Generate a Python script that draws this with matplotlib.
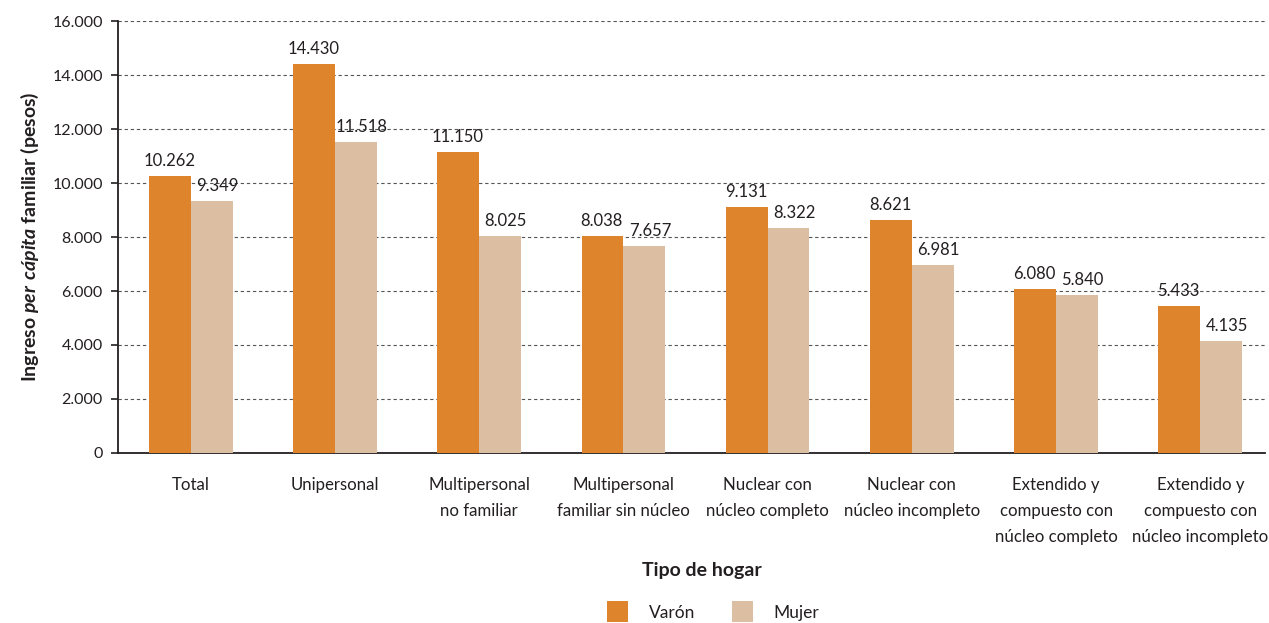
import matplotlib.pyplot as plt
import numpy as np

plt.rcParams['font.family'] = ['Lato', 'DejaVu Sans']
plt.rcParams['mathtext.fontset'] = 'custom'
plt.rcParams['mathtext.bfit'] = 'Lato:bold:italic'
plt.rcParams['mathtext.rm'] = 'Lato:bold'

categorias = ["Total", "Unipersonal", "Multipersonal\nno familiar",
              "Multipersonal\nfamiliar sin núcleo", "Nuclear con\nnúcleo completo",
              "Nuclear con\nnúcleo incompleto", "Extendido y\ncompuesto con\nnúcleo completo",
              "Extendido y\ncompuesto con\nnúcleo incompleto"]
varon = [10262, 14430, 11150, 8038, 9131, 8621, 6080, 5433]
mujer = [9349, 11518, 8025, 7657, 8322, 6981, 5840, 4135]
yticks = [0, 2000, 4000, 6000, 8000, 10000, 12000, 14000, 16000]

naranja = '#DD842D'
beige = '#DCBFA3'
texto = '#231f20'

def fmt(v):
    return f"{v:,}".replace(",", ".")

fig = plt.figure(figsize=(12.69, 6.23), dpi=100)
ax = fig.add_axes([0.093, 0.273, 0.904, 0.693])

x = np.arange(len(categorias))
w = 0.29
b1 = ax.bar(x - w / 2, varon, w, color=naranja, label='Varón', zorder=3)
b2 = ax.bar(x + w / 2, mujer, w, color=beige, label='Mujer', zorder=3)

# etiquetas de valor (las de mujer van un poco corridas a la derecha, como en el original)
for barras, vals, dx in [(b1, varon, -0.5), (b2, mujer, 4)]:
    for r, v in zip(barras, vals):
        ax.annotate(fmt(v), (r.get_x() + r.get_width() / 2, v), xytext=(dx, 5),
                    textcoords='offset points', ha='center', va='bottom',
                    fontsize=12, color=texto)

ax.set_xlim(-0.505, 7.45)
ax.set_ylim(0, 16000)
ax.set_yticks(yticks)
ax.set_yticklabels([fmt(t) for t in yticks], fontsize=11.5, color=texto)
ax.set_xticks(x)
ax.set_xticklabels(categorias, fontsize=12.1, color=texto, linespacing=1.8, va='top')
ax.tick_params(axis='x', length=0, pad=17)
ax.tick_params(axis='y', length=5, width=1.2, color=texto, pad=6)

ax.grid(axis='y', linestyle=(0, (3, 2.5)), color='#555555', linewidth=0.8, zorder=0)
for s in ['top', 'right']:
    ax.spines[s].set_visible(False)
for s in ['left', 'bottom']:
    ax.spines[s].set_color(texto)
    ax.spines[s].set_linewidth(1.3)

ax.set_ylabel(r"Ingreso $\mathbfit{per\ cápita}$ familiar (pesos)", fontsize=14,
              fontweight='bold', color=texto, labelpad=8)

fig.text(0.553, 0.085, "Tipo de hogar", ha='center', va='center', fontsize=14,
         fontweight='bold', color=texto)

fig.legend(handles=[b1, b2], labels=['Varón', 'Mujer'], loc='center',
           bbox_to_anchor=(0.562, 0.018), ncol=2, frameon=False, fontsize=12.5,
           handlelength=1.2, handleheight=1.5, columnspacing=2.1, handletextpad=1.2,
           labelcolor=texto)

fig.savefig('out.png', dpi=100)
